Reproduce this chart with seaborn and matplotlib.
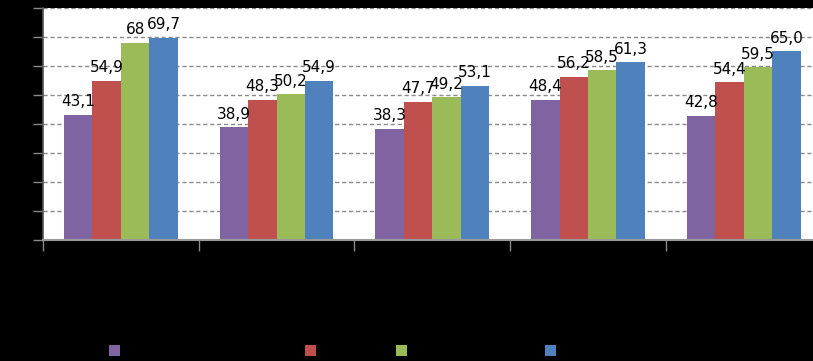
import matplotlib
matplotlib.use("Agg")
import matplotlib.pyplot as plt
import seaborn as sns
import pandas as pd
from matplotlib.patches import Patch

categories = ["1", "2", "3", "4", "5"]
series = ["Ряд 1", "Ряд 2", "Ряд 3", "Ряд 4"]
s1 = [43.1, 38.9, 38.3, 48.4, 42.8]
s2 = [54.9, 48.3, 47.7, 56.2, 54.4]
s3 = [68.0, 50.2, 49.2, 58.5, 59.5]
s4 = [69.7, 54.9, 53.1, 61.3, 65.0]
lab1 = ["43,1", "38,9", "38,3", "48,4", "42,8"]
lab2 = ["54,9", "48,3", "47,7", "56,2", "54,4"]
lab3 = ["68", "50,2", "49,2", "58,5", "59,5"]
lab4 = ["69,7", "54,9", "53,1", "61,3", "65,0"]
colors = ["#8064A2", "#C0504D", "#9BBB59", "#4F81BD"]

rows = []
for name, vals in zip(series, [s1, s2, s3, s4]):
    for c, v in zip(categories, vals):
        rows.append({"cat": c, "val": v, "series": name})
df = pd.DataFrame(rows)

sns.set_style("white")
fig = plt.figure(figsize=(8.13, 3.61), dpi=100, facecolor="black")
ax = fig.add_axes([43 / 813, 121 / 361, 1 - 43 / 813, 232 / 361])
ax.set_facecolor("white")

sns.barplot(data=df, x="cat", y="val", hue="series", palette=colors,
            width=0.73, saturation=1, ax=ax, legend=False, errorbar=None,
            linewidth=0, edgecolor="none")

labels = [lab1, lab2, lab3, lab4]
for cont, labs in zip(ax.containers, labels):
    ax.bar_label(cont, labels=labs, padding=4, fontsize=11, color="black")

ax.set_ylim(0, 80)
ax.set_xlim(-0.5, 4.445)
ax.set_yticks(range(0, 81, 10))
ax.yaxis.grid(True, linestyle=(0, (3, 2)), color="#8a8a8a", linewidth=1)
ax.set_axisbelow(True)
ax.set_yticklabels([])
ax.set_xlabel("")
ax.set_ylabel("")
ax.set_xticks([i - 0.5 for i in range(5)])
ax.set_xticklabels([])
ax.tick_params(axis="y", length=7, color="#888888", width=1, left=True)
ax.tick_params(axis="x", length=8, color="#888888", width=1, bottom=True)
for s in ["top", "right"]:
    ax.spines[s].set_visible(False)
ax.spines["left"].set_color("#555555")
ax.spines["bottom"].set_color("#999999")
ax.spines["left"].set_linewidth(1.2)
ax.spines["bottom"].set_linewidth(1.5)

# legend squares (text black on black as in reference)
leg_x = [109, 305, 396, 545]
for name, col, x in zip(series, colors, leg_x):
    fig.legend(handles=[Patch(facecolor=col, edgecolor="none", label=name)],
               loc="center left", bbox_to_anchor=(x / 813, 1 - 351 / 361),
               frameon=False, handlelength=0.9, handleheight=1.0,
               borderpad=0, borderaxespad=0, handletextpad=0.4,
               labelcolor="black", fontsize=9)

fig.savefig("out.png", dpi=100, facecolor="black")
